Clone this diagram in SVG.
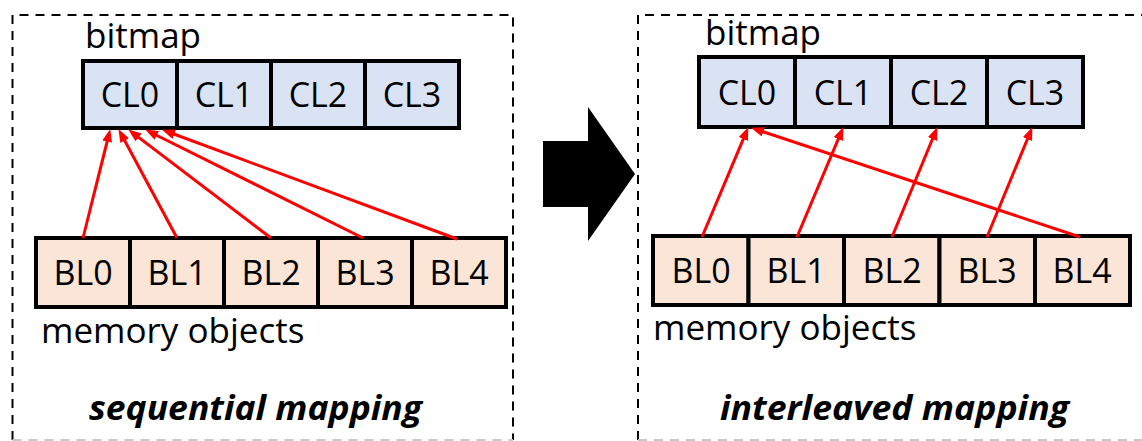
<svg xmlns="http://www.w3.org/2000/svg" width="1142" height="441" viewBox="0 0 1142 441">
  <style>
    .panel { fill: none; stroke: #000; stroke-width: 2; stroke-dasharray: 9 7; }
    .edge { fill: none; stroke: #c8c8c8; stroke-width: 2; stroke-dasharray: 9 7; }
    .cl { fill: #DAE3F3; stroke: #000; stroke-width: 4; }
    .bl { fill: #FBE5D6; stroke: #000; stroke-width: 4; }
    .lbl { font-family: "Open Sans", "Liberation Sans", sans-serif; font-size: 35px; fill: #000; }
    .cell { font-family: "Open Sans", "Liberation Sans", sans-serif; font-size: 34px; fill: #000; text-anchor: middle; }
    .title { font-family: "Open Sans", "Liberation Sans", sans-serif; font-size: 34px; font-weight: bold; font-style: italic; fill: #000; }
    .link { stroke: #FF0000; stroke-width: 3; fill: none; marker-end: url(#head); }
  </style>
  <defs>
    <marker id="head" markerUnits="userSpaceOnUse" markerWidth="13" markerHeight="10" refX="2" refY="5" orient="auto">
      <path d="M0,0 L13,5 L0,10 z" fill="#FF0000"/>
    </marker>
  </defs>

  <rect width="1142" height="441" fill="#fff"/>

  <!-- dashed panels (bottom edge sits on the canvas border) -->
  <g id="panel-sequential">
    <path class="panel" d="M12.5,440 V15 H513 V440"/>
    <path class="edge" d="M12.5,440 H513"/>
    <text class="title" x="89" y="420" textLength="333" lengthAdjust="spacingAndGlyphs">sequential mapping</text>
  </g>
  <g id="panel-interleaved">
    <path class="panel" d="M638,440 V15 H1142"/>
    <path class="edge" d="M638,440 H1142"/>
    <text class="title" x="720" y="420" textLength="349" lengthAdjust="spacingAndGlyphs">interleaved mapping</text>
  </g>

  <!-- left: sequential -->
  <g id="bitmap-left">
    <text class="lbl" x="85" y="48">bitmap</text>
    <rect class="cl" x="83" y="61" width="94" height="67"/>
    <rect class="cl" x="177" y="61" width="94" height="67"/>
    <rect class="cl" x="271" y="61" width="94" height="67"/>
    <rect class="cl" x="365" y="61" width="94" height="67"/>
    <text class="cell" x="130" y="107">CL0</text>
    <text class="cell" x="224" y="107">CL1</text>
    <text class="cell" x="318" y="107">CL2</text>
    <text class="cell" x="412" y="107">CL3</text>
  </g>
  <g id="objects-left">
    <rect class="bl" x="36" y="238" width="94" height="69"/>
    <rect class="bl" x="130" y="238" width="94" height="69"/>
    <rect class="bl" x="224" y="238" width="94" height="69"/>
    <rect class="bl" x="318" y="238" width="94" height="69"/>
    <rect class="bl" x="412" y="238" width="94" height="69"/>
    <text class="cell" x="83" y="285">BL0</text>
    <text class="cell" x="177" y="285">BL1</text>
    <text class="cell" x="271" y="285">BL2</text>
    <text class="cell" x="365" y="285">BL3</text>
    <text class="cell" x="459" y="285">BL4</text>
    <text class="lbl" x="41" y="343">memory objects</text>
  </g>

  <!-- right: interleaved -->
  <g id="bitmap-right">
    <text class="lbl" x="705" y="45">bitmap</text>
    <rect class="cl" x="699" y="57" width="96" height="70"/>
    <rect class="cl" x="795" y="57" width="96" height="70"/>
    <rect class="cl" x="891" y="57" width="96" height="70"/>
    <rect class="cl" x="987" y="57" width="96" height="70"/>
    <text class="cell" x="747" y="105">CL0</text>
    <text class="cell" x="843" y="105">CL1</text>
    <text class="cell" x="939" y="105">CL2</text>
    <text class="cell" x="1035" y="105">CL3</text>
  </g>
  <g id="objects-right">
    <rect class="bl" x="653" y="236" width="95.5" height="69"/>
    <rect class="bl" x="748.5" y="236" width="95.5" height="69"/>
    <rect class="bl" x="844" y="236" width="95.5" height="69"/>
    <rect class="bl" x="939.5" y="236" width="95.5" height="69"/>
    <rect class="bl" x="1035" y="236" width="95" height="69"/>
    <text class="cell" x="701" y="283">BL0</text>
    <text class="cell" x="796" y="283">BL1</text>
    <text class="cell" x="892" y="283">BL2</text>
    <text class="cell" x="987" y="283">BL3</text>
    <text class="cell" x="1082" y="283">BL4</text>
    <text class="lbl" x="653" y="340">memory objects</text>
  </g>

  <!-- transition arrow -->
  <g id="transition">
    <polygon points="543,141 588,141 588,107 635,174 588,241 588,207 543,207" fill="#000"/>
  </g>

  <!-- mapping connectors -->
  <g id="connectors">
    <line class="link" x1="83" y1="238" x2="107.6" y2="139.7"/>
    <line class="link" x1="177" y1="238" x2="123.7" y2="138.8"/>
    <line class="link" x1="271" y1="238" x2="137.0" y2="136.1"/>
    <line class="link" x1="363" y1="238" x2="155.0" y2="134.5"/>
    <line class="link" x1="457" y1="239" x2="172.4" y2="133.5"/>

    <line class="link" x1="702" y1="237" x2="744.1" y2="137.2"/>
    <line class="link" x1="797" y1="237" x2="839.1" y2="137.2"/>
    <line class="link" x1="892" y1="237" x2="933.2" y2="137.2"/>
    <line class="link" x1="987" y1="237" x2="1028.2" y2="137.2"/>
    <line class="link" x1="1080" y1="237" x2="761.5" y2="131.2"/>
  </g>
</svg>
